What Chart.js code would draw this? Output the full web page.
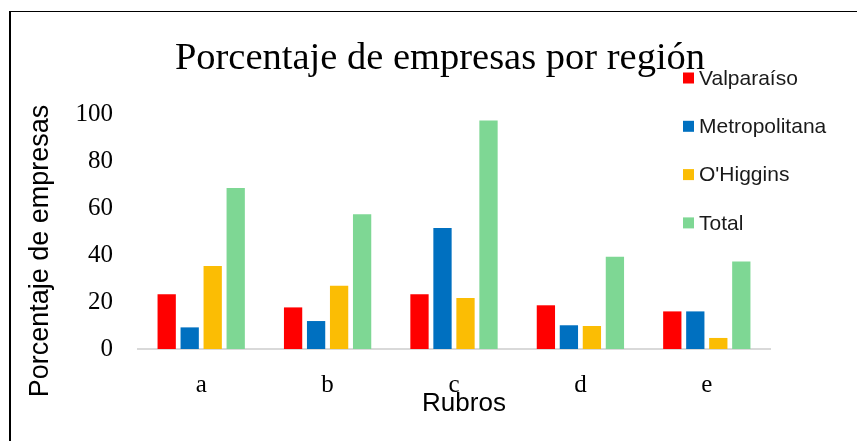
<!DOCTYPE html>
<html>
<head>
<meta charset="utf-8">
<script src="https://cdn.jsdelivr.net/npm/chart.js@4.4.1/dist/chart.umd.min.js"></script>
<style>
    html, body { margin: 0; padding: 0; background: #fff; }
    #wrap { position: relative; width: 857px; height: 441px; }
    #frame {
        position: absolute; left: 9px; top: 11px; right: 0; bottom: 0;
        border-top: 1px solid #000; border-left: 2px solid #000;
        pointer-events: none;
    }
    canvas { position: absolute; left: 0; top: 0; }
</style>
</head>
<body>
<div id="wrap">
    <canvas id="regionChart" width="857" height="441"></canvas>
    <div id="frame"></div>
</div>
<script>
// rubros
const categories = ['a', 'b', 'c', 'd', 'e'];

// porcentaje por región
const valparaiso    = [23.3, 17.7, 23.3, 18.6, 16.0];
const metropolitana = [9.2, 11.9, 51.5, 10.1, 16.0];
const ohiggins      = [35.3, 26.9, 21.7, 9.8, 4.7];
const total         = [68.5, 57.3, 97.2, 39.3, 37.2];

const yTicks = [0, 20, 40, 60, 80, 100];

const serif = "'Liberation Serif', 'Times New Roman', serif";
const sans = "'Liberation Sans', Arial, sans-serif";

// titulo, ejes y leyenda dibujados a mano
const textPlugin = {
    id: 'textPlugin',
    afterDraw: function(chart) {
        const ctx = chart.ctx;
        ctx.save();
        ctx.fillStyle = '#000';

        // título
        ctx.font = '38.5px ' + serif;
        ctx.textAlign = 'center';
        ctx.textBaseline = 'alphabetic';
        ctx.fillText('Porcentaje de empresas por región', 440, 69);

        // título eje x
        ctx.font = '26px ' + sans;
        ctx.fillText('Rubros', 464, 411);

        // título eje y
        ctx.save();
        ctx.font = '27px ' + sans;
        ctx.translate(48, 251);
        ctx.rotate(-Math.PI / 2);
        ctx.fillText('Porcentaje de empresas', 0, 0);
        ctx.restore();

        // leyenda
        ctx.font = '21px ' + sans;
        ctx.textAlign = 'left';
        ctx.textBaseline = 'middle';
        chart.data.datasets.forEach(function(ds, i) {
            const y = 78 + i * 48.3;
            ctx.fillStyle = ds.backgroundColor;
            ctx.fillRect(683, y - 5.5, 11, 11);
            ctx.fillStyle = '#1a1a1a';
            ctx.fillText(ds.label, 699, y + 1);
        });
        ctx.restore();
    }
};

const ctx = document.getElementById('regionChart').getContext('2d');
const regionChart = new Chart(ctx, {
    type: 'bar',
    data: {
        labels: categories,
        datasets: [
            { label: 'Valparaíso', data: valparaiso, backgroundColor: '#ff0000' },
            { label: 'Metropolitana', data: metropolitana, backgroundColor: '#0070c0' },
            { label: "O'Higgins", data: ohiggins, backgroundColor: '#fbbd04' },
            { label: 'Total', data: total, backgroundColor: '#7ed794' }
        ]
    },
    options: {
        responsive: false,
        animation: false,
        categoryPercentage: 0.728,
        barPercentage: 0.795,
        layout: {
            padding: { top: 114, right: 87, bottom: 32, left: 0 }
        },
        scales: {
            x: {
                grid: { display: false, drawTicks: false },
                border: { display: true, color: '#d9d9d9', width: 2 },
                ticks: {
                    color: '#000',
                    padding: 24,
                    font: { family: serif, size: 25, lineHeight: 1 }
                },
                afterFit: function(scale) { scale.height = 60; }
            },
            y: {
                min: 0,
                max: 100,
                grid: { display: false, drawTicks: false },
                border: { display: false },
                afterBuildTicks: function(scale) {
                    scale.ticks = yTicks.map(function(v) { return { value: v }; });
                },
                ticks: {
                    color: '#000',
                    padding: 25,
                    font: { family: serif, size: 25 }
                },
                afterFit: function(scale) { scale.width = 138; }
            }
        },
        plugins: {
            legend: { display: false },
            title: { display: false },
            tooltip: { enabled: false }
        }
    },
    plugins: [textPlugin]
});
</script>
</body>
</html>
